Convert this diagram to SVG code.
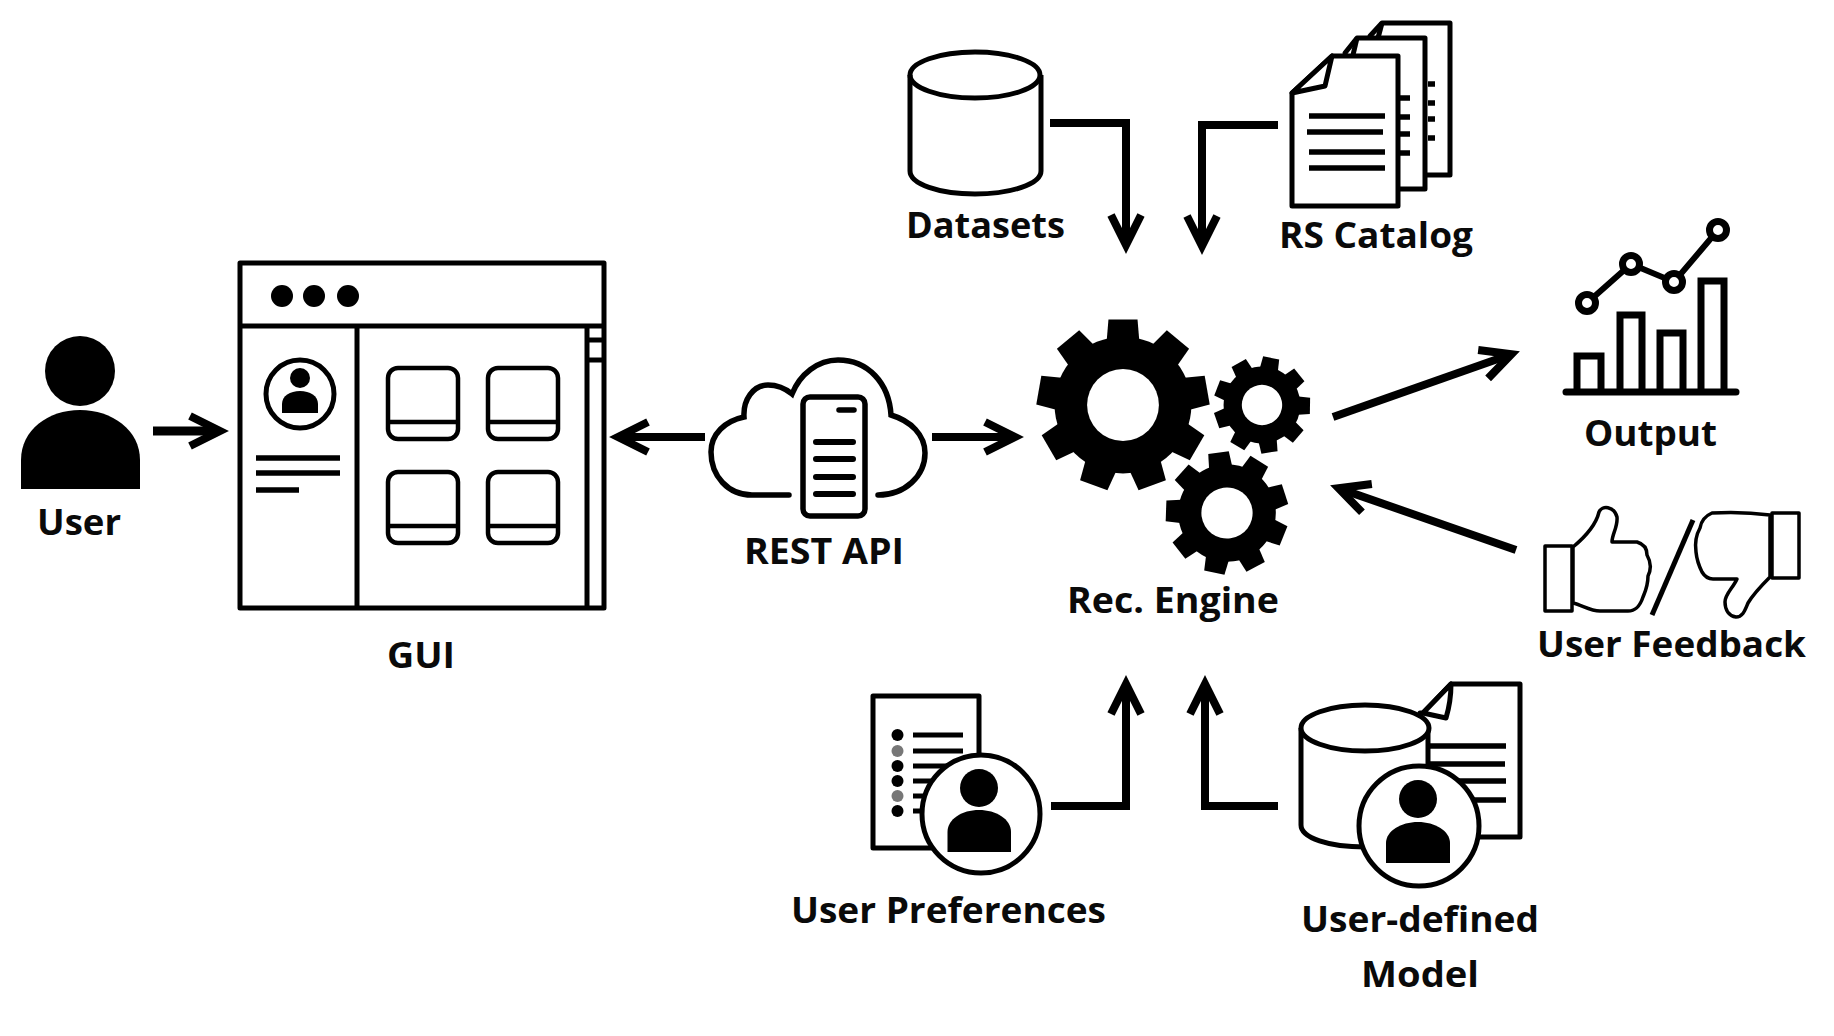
<svg xmlns="http://www.w3.org/2000/svg" width="1834" height="1036" viewBox="0 0 1834 1036">
<style>
.lbl{font-family:"Open Sans","Liberation Sans",sans-serif;font-weight:700;font-size:36px;fill:#0a0a0a}
.ln{fill:none;stroke:#000;stroke-width:5}
.pg{fill:#fff;stroke:#000;stroke-width:5;stroke-linejoin:round}
.bar{fill:none;stroke:#000;stroke-width:6}
.th{fill:#fff;stroke:#000;stroke-width:3.5;stroke-linejoin:round}
.conn{fill:none;stroke:#000;stroke-width:8;marker-end:url(#ah)}
.card{fill:none;stroke:#000;stroke-width:4.5}
</style>
<defs>
<marker id="ah" markerUnits="userSpaceOnUse" markerWidth="60" markerHeight="60" refX="0" refY="0" orient="auto" overflow="visible">
<path d="M-29,-15 L1,0 L-29,15" fill="none" stroke="#000" stroke-width="8"/>
</marker>
<path id="t" d="M-19,-76 L-17,-100 L17,-100 L19,-76Z" fill="#000"/>
<g id="gear">
<circle r="80" fill="#000"/>
<use href="#t"/><use href="#t" transform="rotate(40)"/><use href="#t" transform="rotate(80)"/><use href="#t" transform="rotate(120)"/><use href="#t" transform="rotate(160)"/><use href="#t" transform="rotate(200)"/><use href="#t" transform="rotate(240)"/><use href="#t" transform="rotate(280)"/><use href="#t" transform="rotate(320)"/>
<circle r="42" fill="#fff"/>
</g>
<path id="card" d="M398,0 h50 a10,10 0 0 1 10,10 v51 a10,10 0 0 1 -10,10 h-50 a10,10 0 0 1 -10,-10 v-51 a10,10 0 0 1 10,-10 Z M388,54 H458"/>
</defs>
<rect width="1834" height="1036" fill="#fff"/>

<g id="user">
<ellipse cx="80" cy="371" rx="35" ry="35" fill="#000"/>
<path d="M21,489 V460 C21,430 48,410 80,410 C112,410 140,430 140,460 V489 Z" fill="#000"/>
<text class="lbl" x="37" y="535" textLength="84" lengthAdjust="spacingAndGlyphs">User</text>
</g>

<g id="gui">
<rect class="ln" x="240" y="263" width="364" height="345" stroke-linejoin="round"/>
<path class="ln" d="M240,326 H604 M357,326 V608 M587,326 V608 M587,340 H604 M587,360 H604"/>
<circle cx="282" cy="296" r="11"/><circle cx="314" cy="296" r="11"/><circle cx="348" cy="296" r="11"/>
<circle class="ln" cx="300" cy="394" r="34"/>
<circle cx="300" cy="378" r="10"/>
<path d="M282,413 V404 C282,396 290,391 300,391 C310,391 318,396 318,404 V413 Z"/>
<path d="M256,458 H340 M256,473 H340 M256,490 H299" stroke="#000" stroke-width="5.5" fill="none"/>
<use href="#card" class="card" transform="translate(0,368)"/>
<use href="#card" class="card" transform="translate(100,368)"/>
<use href="#card" class="card" transform="translate(0,472)"/>
<use href="#card" class="card" transform="translate(100,472)"/>
<text class="lbl" x="387" y="668" textLength="68" lengthAdjust="spacingAndGlyphs">GUI</text>
</g>

<g id="rest-api">
<path class="ln" stroke-linecap="round" style="stroke-width:5.5" d="M789,495 H752 C728,495 711,476 711,452 C711,434 725,421 744,417 C743,400 753,385 768,385 C778,385 786,389 792,394 C800,374 818,360 838,360 C868,360 889,383 891,415 C911,421 925,435 925,453 C925,476 905,495 878,495"/>
<rect class="ln" style="stroke-width:5.5" x="803" y="397" width="62" height="119" rx="7"/>
<path d="M839,410 H854" stroke="#000" stroke-width="5.5" stroke-linecap="round"/>
<path d="M816,442 H853 M816,459 H853 M816,477 H853 M816,494 H853" stroke="#000" stroke-width="6" stroke-linecap="round" fill="none"/>
<text class="lbl" x="744" y="564" textLength="160" lengthAdjust="spacingAndGlyphs">REST API</text>
</g>

<g id="rec-engine">
<use href="#gear" transform="translate(1123,405) scale(.855)"/>
<use href="#gear" transform="translate(1262,405) rotate(11) scale(.48)"/>
<use href="#gear" transform="translate(1227,513) rotate(-8) scale(.61)"/>
<text class="lbl" x="1067" y="613" textLength="212" lengthAdjust="spacingAndGlyphs">Rec. Engine</text>
</g>

<g id="datasets">
<path class="ln" d="M910,75 V171 C910,184 939,194 975,194 C1011,194 1041,184 1041,171 V75"/>
<ellipse class="ln" cx="975" cy="75" rx="65" ry="23"/>
<text class="lbl" x="906" y="238" textLength="159" lengthAdjust="spacingAndGlyphs">Datasets</text>
</g>

<g id="rs-catalog">
<path class="pg" d="M1382,23 H1450 V175 H1400 L1370,36 Z"/>
<path class="ln" d="M1382,23 L1378,38"/>
<path d="M1428,84 H1435 M1428,103 H1435 M1428,119 H1435 M1428,138 H1435" stroke="#000" stroke-width="5.5" fill="none"/>
<path class="pg" d="M1357,38 H1425 V189 H1380 L1345,53 Z"/>
<path class="ln" d="M1357,38 L1353,55"/>
<path d="M1399,98 H1410 M1399,117 H1410 M1399,134 H1410 M1399,153 H1410" stroke="#000" stroke-width="5.5" fill="none"/>
<path class="pg" d="M1332,56 H1398 V206 H1292 V93 Z"/>
<path class="pg" d="M1332,56 L1325,86 L1292,93 Z"/>
<path d="M1309,116 H1385 M1307,132 H1383 M1309,152 H1385 M1309,168 H1385" stroke="#000" stroke-width="5.5" fill="none"/>
<text class="lbl" x="1279" y="248" textLength="194" lengthAdjust="spacingAndGlyphs">RS Catalog</text>
</g>

<g id="output">
<path d="M1577,392 V356 H1601 V392 M1620,392 V315 H1642 V392 M1660,392 V333 H1683 V392 M1701,392 V281 H1724 V392" fill="none" stroke="#000" stroke-width="7"/>
<path d="M1566,392 H1736" stroke="#000" stroke-width="7" stroke-linecap="round"/>
<path d="M1587,303 L1631,264 L1674,282 L1718,230" stroke="#000" stroke-width="6" fill="none"/>
<circle cx="1587" cy="303" r="8.5" fill="#fff" stroke="#000" stroke-width="7"/>
<circle cx="1631" cy="264" r="8.5" fill="#fff" stroke="#000" stroke-width="7"/>
<circle cx="1674" cy="282" r="8.5" fill="#fff" stroke="#000" stroke-width="7"/>
<circle cx="1718" cy="230" r="8.5" fill="#fff" stroke="#000" stroke-width="7"/>
<text class="lbl" x="1584" y="446" textLength="133" lengthAdjust="spacingAndGlyphs">Output</text>
</g>

<g id="user-feedback">
<rect class="th" x="1545" y="546" width="27" height="65"/>
<path class="th" d="M1573,547 C1585,537 1596,525 1599,512 C1602,505 1614,506 1617,517 C1618,527 1612,534 1612,542 H1637 C1644,544 1647,549 1647,555 C1651,562 1651,570 1648,576 C1648,586 1645,592 1643,597 C1640,606 1636,611 1628,611 H1600 C1590,611 1582,605 1573,603 Z"/>
<path d="M1693,520 L1652,615" stroke="#000" stroke-width="5"/>
<rect class="th" x="1772" y="513" width="27" height="65"/>
<path class="th" d="M1770,515 C1755,513 1730,512 1712,513 C1705,516 1701,522 1700,528 C1696,535 1695,545 1696,552 C1697,562 1700,568 1702,572 C1705,577 1709,579 1713,579 H1737 C1733,588 1725,594 1725,602 C1725,610 1729,616 1736,617 C1743,617 1745,610 1748,603 C1754,593 1762,585 1770,577 Z"/>
<text class="lbl" x="1537" y="657" textLength="269" lengthAdjust="spacingAndGlyphs">User Feedback</text>
</g>

<g id="user-preferences">
<rect class="pg" x="873" y="696" width="106" height="152"/>
<circle cx="897.5" cy="735" r="6"/><circle cx="897.5" cy="751" r="6" fill="#777"/><circle cx="897.5" cy="766" r="6"/><circle cx="897.5" cy="781" r="6"/><circle cx="897.5" cy="796" r="6" fill="#777"/><circle cx="897.5" cy="811" r="6"/>
<path d="M913,735 H963 M913,751 H963 M913,766 H963 M913,781 H963 M913,796 H963 M913,811 H963" stroke="#000" stroke-width="5" fill="none"/>
<circle cx="981" cy="814" r="59" fill="#fff" stroke="#000" stroke-width="5"/>
<ellipse cx="979" cy="788" rx="19" ry="19"/>
<path d="M947.5,852 V832 C947.5,819 962,810 979,810 C996,810 1011,819 1011,832 V852 Z"/>
<text class="lbl" x="791" y="923" textLength="315" lengthAdjust="spacingAndGlyphs">User Preferences</text>
</g>

<g id="user-defined-model">
<path class="pg" d="M1451,684 H1520 V837 H1420 V713 L1423,713 Z"/>
<path class="pg" d="M1451,684 C1451,696 1449,708 1446,718 L1423,713 Z"/>
<path class="pg" d="M1301,728 V825 C1301,838 1329,847 1365,847 C1400,847 1428,838 1428,825 V728"/>
<ellipse class="pg" cx="1365" cy="728" rx="64" ry="23"/>
<path d="M1430,746 H1506 M1430,764 H1505 M1430,781 H1506 M1430,800 H1506" stroke="#000" stroke-width="5.5" fill="none"/>
<circle cx="1419" cy="826" r="60" fill="#fff" stroke="#000" stroke-width="5"/>
<ellipse cx="1418" cy="799" rx="19" ry="19"/>
<path d="M1386,863 V843 C1386,831 1401,822 1418,822 C1435,822 1450,831 1450,843 V863 Z"/>
<text class="lbl" x="1301" y="932" textLength="238" lengthAdjust="spacingAndGlyphs">User-defined</text>
<text class="lbl" x="1361" y="987" textLength="118" lengthAdjust="spacingAndGlyphs">Model</text>
</g>

<g id="connectors">
<path class="conn" style="stroke-width:9" d="M153,431 H219"/>
<path class="conn" d="M705,437 H619"/>
<path class="conn" d="M932,437 H1014"/>
<path class="conn" d="M1050,123 H1126 V244"/>
<path class="conn" d="M1278,125 H1202 V245"/>
<path class="conn" d="M1051,806 H1126 V685"/>
<path class="conn" d="M1278,806 H1205 V685"/>
<path class="conn" d="M1333,417 L1510.5,354.6"/>
<path class="conn" d="M1516,550 L1339.5,488.6"/>
</g>
</svg>
